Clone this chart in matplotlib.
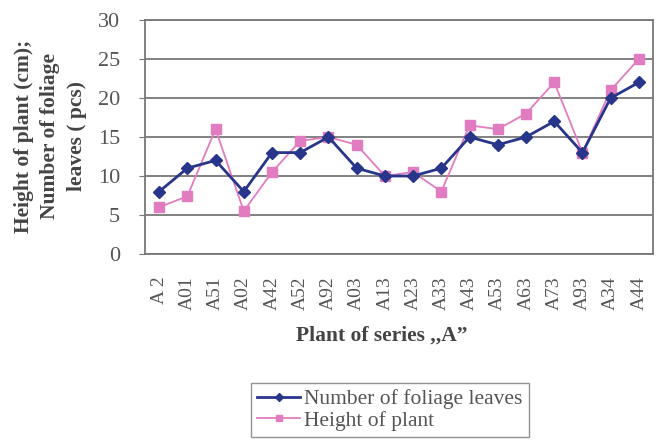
import matplotlib
matplotlib.use('Agg')
import matplotlib.pyplot as plt

plants = ['A 2', 'A01', 'A51', 'A02', 'A42', 'A52', 'A92', 'A03', 'A13',
          'A23', 'A33', 'A43', 'A53', 'A63', 'A73', 'A93', 'A34', 'A44']
leaves = [8, 11, 12, 8, 13, 13, 15, 11, 10, 10, 11, 15, 14, 15, 17, 13, 20, 22]
height = [6, 7.4, 16, 5.5, 10.5, 14.5, 15, 14, 10, 10.5, 8, 16.5, 16, 18, 22, 13, 21, 25]
yticks = [0, 5, 10, 15, 20, 25, 30]

plt.rcParams['font.family'] = ['Liberation Serif', 'DejaVu Serif']
txt = '#555555'
blue = '#27358a'
pink = '#e27cc0'

fig = plt.figure(figsize=(6.59, 4.40), dpi=100)
ax = fig.add_axes([145/659, 1-254/440, 508/659, 234/440])

x = range(len(plants))
ax.plot(x, leaves, color=blue, lw=2, marker='D', ms=6.5, label='Number of foliage leaves', zorder=3)
ax.plot(x, height, color=pink, lw=1.3, marker='s', ms=6.5, label='Height of plant', zorder=2)

ax.set_xlim(-0.5, len(plants) - 0.5)
ax.set_ylim(0, 30)
ax.set_yticks(yticks)
ax.set_yticklabels([str(v) for v in yticks], fontsize=16, color=txt)
ax.set_xticks(list(x))
ax.set_xticklabels(plants, rotation=90, fontsize=14, color=txt)
ax.tick_params(axis='x', length=0, pad=16)
ax.tick_params(axis='y', length=4, color='#777777', pad=14)
ax.yaxis.grid(True, color='#777777', lw=1.3)
ax.set_axisbelow(True)
for s in ax.spines.values():
    s.set_color('#777777')
    s.set_linewidth(1.3)

# three-line y label, each line placed on its own column
ylab = ['Height of plant (cm);', 'Number of foliage', 'leaves ( pcs)']
for xp, line in zip([24, 50, 77], ylab):
    fig.text(xp/659, 1-136/440, line, rotation=90, ha='center', va='center',
             fontsize=15.5, fontweight='bold', color='#444444')

fig.text(382/659, 1-336/440, 'Plant of series ,,A\u201d',
         ha='center', va='center', fontsize=15.5, fontweight='bold', color='#444444')

leg = fig.legend(loc='center', bbox_to_anchor=(390/659, 1-410/440), fontsize=15.5,
                 frameon=True, fancybox=False, edgecolor='#777777', handlelength=2,
                 handletextpad=0.2, labelspacing=0.05, borderpad=0.3, markerscale=0.6)
for t in leg.get_texts():
    t.set_color(txt)

fig.savefig('out.png', dpi=100)
